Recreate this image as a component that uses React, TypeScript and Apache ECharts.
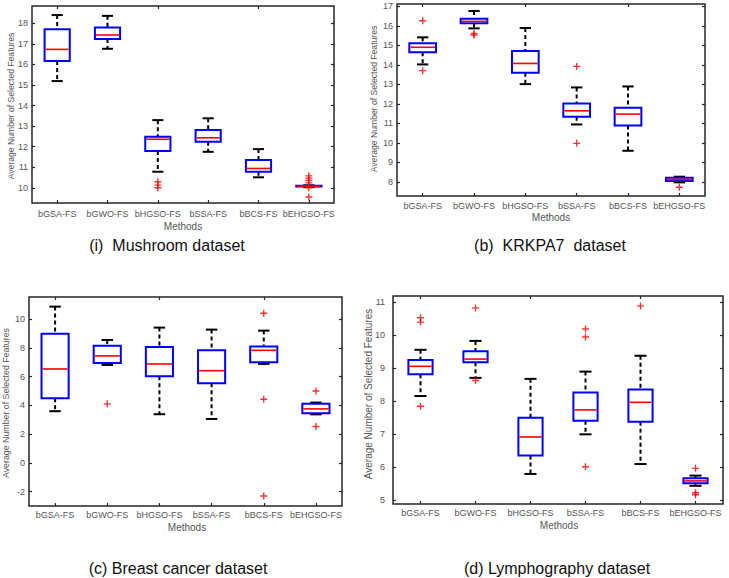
import React, { useEffect, useRef } from "react";
import * as echarts from "echarts";

const methods = ["bGSA-FS", "bGWO-FS", "bHGSO-FS", "bSSA-FS", "bBCS-FS", "bEHGSO-FS"];

// [lowerWhisker, Q1, median, Q3, upperWhisker]
const mushroomStats = [
  [15.19, 16.17, 16.73, 17.71, 18.4],
  [16.76, 17.24, 17.43, 17.79, 18.36],
  [10.78, 11.79, 12.36, 12.48, 13.29],
  [11.75, 12.24, 12.43, 12.81, 13.38],
  [10.51, 10.78, 10.94, 11.35, 11.88],
  [10.03, 10.06, 10.08, 10.1, 10.12],
];
const mushroomOutliers = [
  [2, 10.29], [2, 10.13], [2, 10.0],
  [5, 10.58], [5, 10.47], [5, 10.36], [5, 10.24], [5, 10.0], [5, 9.55],
];

const krkpa7Stats = [
  [14.02, 14.64, 14.9, 15.1, 15.41],
  [15.87, 16.13, 16.23, 16.36, 16.76],
  [13.01, 13.59, 14.07, 14.71, 15.89],
  [10.94, 11.33, 11.64, 12.02, 12.84],
  [9.59, 10.89, 11.47, 11.8, 12.89],
  [7.97, 8.04, 8.12, 8.2, 8.26],
];
const krkpa7Outliers = [
  [0, 16.26], [0, 13.7],
  [1, 15.61], [1, 15.53],
  [3, 13.92], [3, 9.97],
  [5, 7.72],
];

const breastStats = [
  [3.6, 4.5, 6.54, 9.0, 10.88],
  [6.82, 6.96, 7.45, 8.16, 8.56],
  [3.39, 6.03, 6.89, 8.07, 9.42],
  [3.06, 5.54, 6.42, 7.84, 9.28],
  [6.89, 7.01, 7.84, 8.1, 9.21],
  [3.38, 3.46, 3.76, 4.11, 4.2],
];
const breastOutliers = [
  [1, 4.11],
  [4, 10.42], [4, 4.43], [4, -2.3],
  [5, 5.01], [5, 2.53],
];

const lymphStats = [
  [8.15, 8.81, 9.05, 9.24, 9.55],
  [8.7, 9.17, 9.27, 9.51, 9.82],
  [5.79, 6.35, 6.91, 7.49, 8.67],
  [6.99, 7.4, 7.73, 8.26, 8.89],
  [6.09, 7.37, 7.96, 8.35, 9.37],
  [5.43, 5.51, 5.58, 5.66, 5.74],
];
const lymphOutliers = [
  [0, 10.52], [0, 10.39], [0, 7.84],
  [1, 10.82], [1, 8.62],
  [3, 10.18], [3, 9.94], [3, 6.01],
  [4, 10.88],
  [5, 5.96], [5, 5.22], [5, 5.16],
];

const mushroomTicks = [10, 11, 12, 13, 14, 15, 16, 17, 18];
const krkpa7Ticks = [8, 9, 10, 11, 12, 13, 14, 15, 16, 17];
const breastTicks = [-2, 0, 2, 4, 6, 8, 10];
const lymphTicks = [5, 6, 7, 8, 9, 10, 11];

const captions = ["(i)  Mushroom dataset", "(b)  KRKPA7  dataset", "(c) Breast cancer dataset", "(d) Lymphography dataset"];
const yTitle = "Average Number of Selected Features";
const xTitle = "Methods";

const FONT = "'Liberation Sans', Arial, Helvetica, sans-serif";
const PLUS = "path://M4,0H6V4H10V6H6V10H4V6H0V4H4Z";

const panels = [
  {
    stats: mushroomStats, outliers: mushroomOutliers, ticks: mushroomTicks,
    grid: { left: 32, top: 6, width: 302, height: 197 }, min: 9.26, max: 18.84,
    boxRatio: 0.5, yMargin: 4, xMargin: 6,
    yTitle: { x: 11, y: 106, size: 8.6 }, xTitle: { x: 183, y: 226 }, caption: { x: 167, y: 245 },
  },
  {
    stats: krkpa7Stats, outliers: krkpa7Outliers, ticks: krkpa7Ticks,
    grid: { left: 397, top: 4, width: 308, height: 192 }, min: 7.27, max: 17.12,
    boxRatio: 0.52, yMargin: 4, xMargin: 5,
    yTitle: { x: 374, y: 99, size: 8.6 }, xTitle: { x: 551, y: 217 }, caption: { x: 550, y: 245 },
  },
  {
    stats: breastStats, outliers: breastOutliers, ticks: breastTicks,
    grid: { left: 29, top: 297, width: 313, height: 209 }, min: -3.0, max: 11.55,
    boxRatio: 0.52, yMargin: 4, xMargin: 4,
    yTitle: { x: 6, y: 403, size: 8.8 }, xTitle: { x: 187, y: 527 }, caption: { x: 178, y: 568 },
  },
  {
    stats: lymphStats, outliers: lymphOutliers, ticks: lymphTicks,
    grid: { left: 393, top: 296, width: 330, height: 208 }, min: 4.88, max: 11.18,
    boxRatio: 0.44, yMargin: 8, xMargin: 4,
    yTitle: { x: 368, y: 394, size: 10 }, xTitle: { x: 559, y: 525 }, caption: { x: 557, y: 568 },
  },
];

export default function App() {
  const ref = useRef<HTMLDivElement>(null);
  useEffect(() => {
    if (!ref.current) return;
    const chart = echarts.init(ref.current, undefined, { renderer: "svg" });
    const grids: any[] = [];
    const xAxes: any[] = [];
    const yAxes: any[] = [];
    const series: any[] = [];
    const graphics: any[] = [];
    const axisColor = "#262626";
    const labelColor = "#555555";

    panels.forEach((p, i) => {
      grids.push({ ...p.grid, show: true, borderColor: axisColor, borderWidth: 1.5, backgroundColor: "#fff" });
      const tickStyle = { show: true, inside: true, length: 3, lineStyle: { color: axisColor, width: 1.2 } };
      xAxes.push({
        type: "category", gridIndex: i, data: methods, position: "bottom",
        axisLine: { show: false, onZero: false },
        axisTick: { ...tickStyle, alignWithLabel: true },
        axisLabel: { color: labelColor, fontSize: 9, fontFamily: FONT, margin: p.xMargin, interval: 0 },
        splitLine: { show: false },
      });
      xAxes.push({
        type: "category", gridIndex: i, data: methods, position: "top",
        axisLine: { show: false, onZero: false },
        axisTick: { ...tickStyle, alignWithLabel: true },
        axisLabel: { show: false },
        splitLine: { show: false },
      });
      yAxes.push({
        type: "value", gridIndex: i, min: p.min, max: p.max, position: "left",
        axisLine: { show: false, onZero: false },
        axisTick: { ...tickStyle, customValues: p.ticks },
        axisLabel: { color: labelColor, fontSize: 9, fontFamily: FONT, margin: p.yMargin, customValues: p.ticks },
        splitLine: { show: false },
      });
      yAxes.push({
        type: "value", gridIndex: i, min: p.min, max: p.max, position: "right",
        axisLine: { show: false, onZero: false },
        axisTick: { ...tickStyle, customValues: p.ticks },
        axisLabel: { show: false },
        splitLine: { show: false },
      });
      const boxData = p.stats.map((s, k) => [k, ...s]);
      const ratio = p.boxRatio;
      series.push({
        type: "custom",
        xAxisIndex: 2 * i,
        yAxisIndex: 2 * i,
        data: boxData,
        encode: { x: 0, y: [1, 2, 3, 4, 5] },
        renderItem: (params: any, api: any) => {
          const ci = api.value(0);
          const lw = api.coord([ci, api.value(1)]);
          const q1 = api.coord([ci, api.value(2)]);
          const md = api.coord([ci, api.value(3)]);
          const q3 = api.coord([ci, api.value(4)]);
          const uw = api.coord([ci, api.value(5)]);
          const band = api.size([1, 0])[0];
          const bw = band * ratio;
          const cw = band * 0.22;
          const x = md[0];
          const black = { stroke: "#000", lineWidth: 2 };
          return {
            type: "group",
            children: [
              { type: "line", shape: { x1: x, y1: uw[1], x2: x, y2: q3[1] }, style: { ...black, lineDash: [4, 3] } },
              { type: "line", shape: { x1: x, y1: q1[1], x2: x, y2: lw[1] }, style: { ...black, lineDash: [4, 3] } },
              { type: "line", shape: { x1: x - cw / 2, y1: uw[1], x2: x + cw / 2, y2: uw[1] }, style: black },
              { type: "line", shape: { x1: x - cw / 2, y1: lw[1], x2: x + cw / 2, y2: lw[1] }, style: black },
              {
                type: "rect",
                shape: { x: x - bw / 2, y: q3[1], width: bw, height: q1[1] - q3[1] },
                style: { fill: "none", stroke: "#0000ff", lineWidth: 2 },
              },
              { type: "line", shape: { x1: x - bw / 2 + 1, y1: md[1], x2: x + bw / 2 - 1, y2: md[1] }, style: { stroke: "#ff0000", lineWidth: 1.6 } },
            ],
          };
        },
        z: 3,
      });
      series.push({
        type: "scatter",
        xAxisIndex: 2 * i,
        yAxisIndex: 2 * i,
        data: p.outliers,
        symbol: PLUS,
        symbolSize: 7,
        itemStyle: { color: "#ff0000" },
        z: 4,
      });
      graphics.push({
        type: "text", x: p.yTitle.x, y: p.yTitle.y, rotation: Math.PI / 2,
        style: { text: yTitle, fontSize: p.yTitle.size, fontFamily: FONT, fill: labelColor, align: "center", verticalAlign: "middle" },
      });
      graphics.push({
        type: "text", x: p.xTitle.x, y: p.xTitle.y,
        style: { text: xTitle, fontSize: 10, fontFamily: FONT, fill: labelColor, align: "center", verticalAlign: "middle" },
      });
      graphics.push({
        type: "text", x: p.caption.x, y: p.caption.y,
        style: { text: captions[i], fontSize: 16, fontFamily: FONT, fill: "#111", align: "center", verticalAlign: "middle" },
      });
    });

    chart.setOption({
      animation: false,
      backgroundColor: "#ffffff",
      grid: grids,
      xAxis: xAxes,
      yAxis: yAxes,
      series,
      graphic: graphics,
    });
    return () => chart.dispose();
  }, []);
  return (
    <div
      ref={ref}
      style={{ position: "fixed", left: 0, top: 0, width: 729, height: 578, background: "#fff" }}
    />
  );
}
